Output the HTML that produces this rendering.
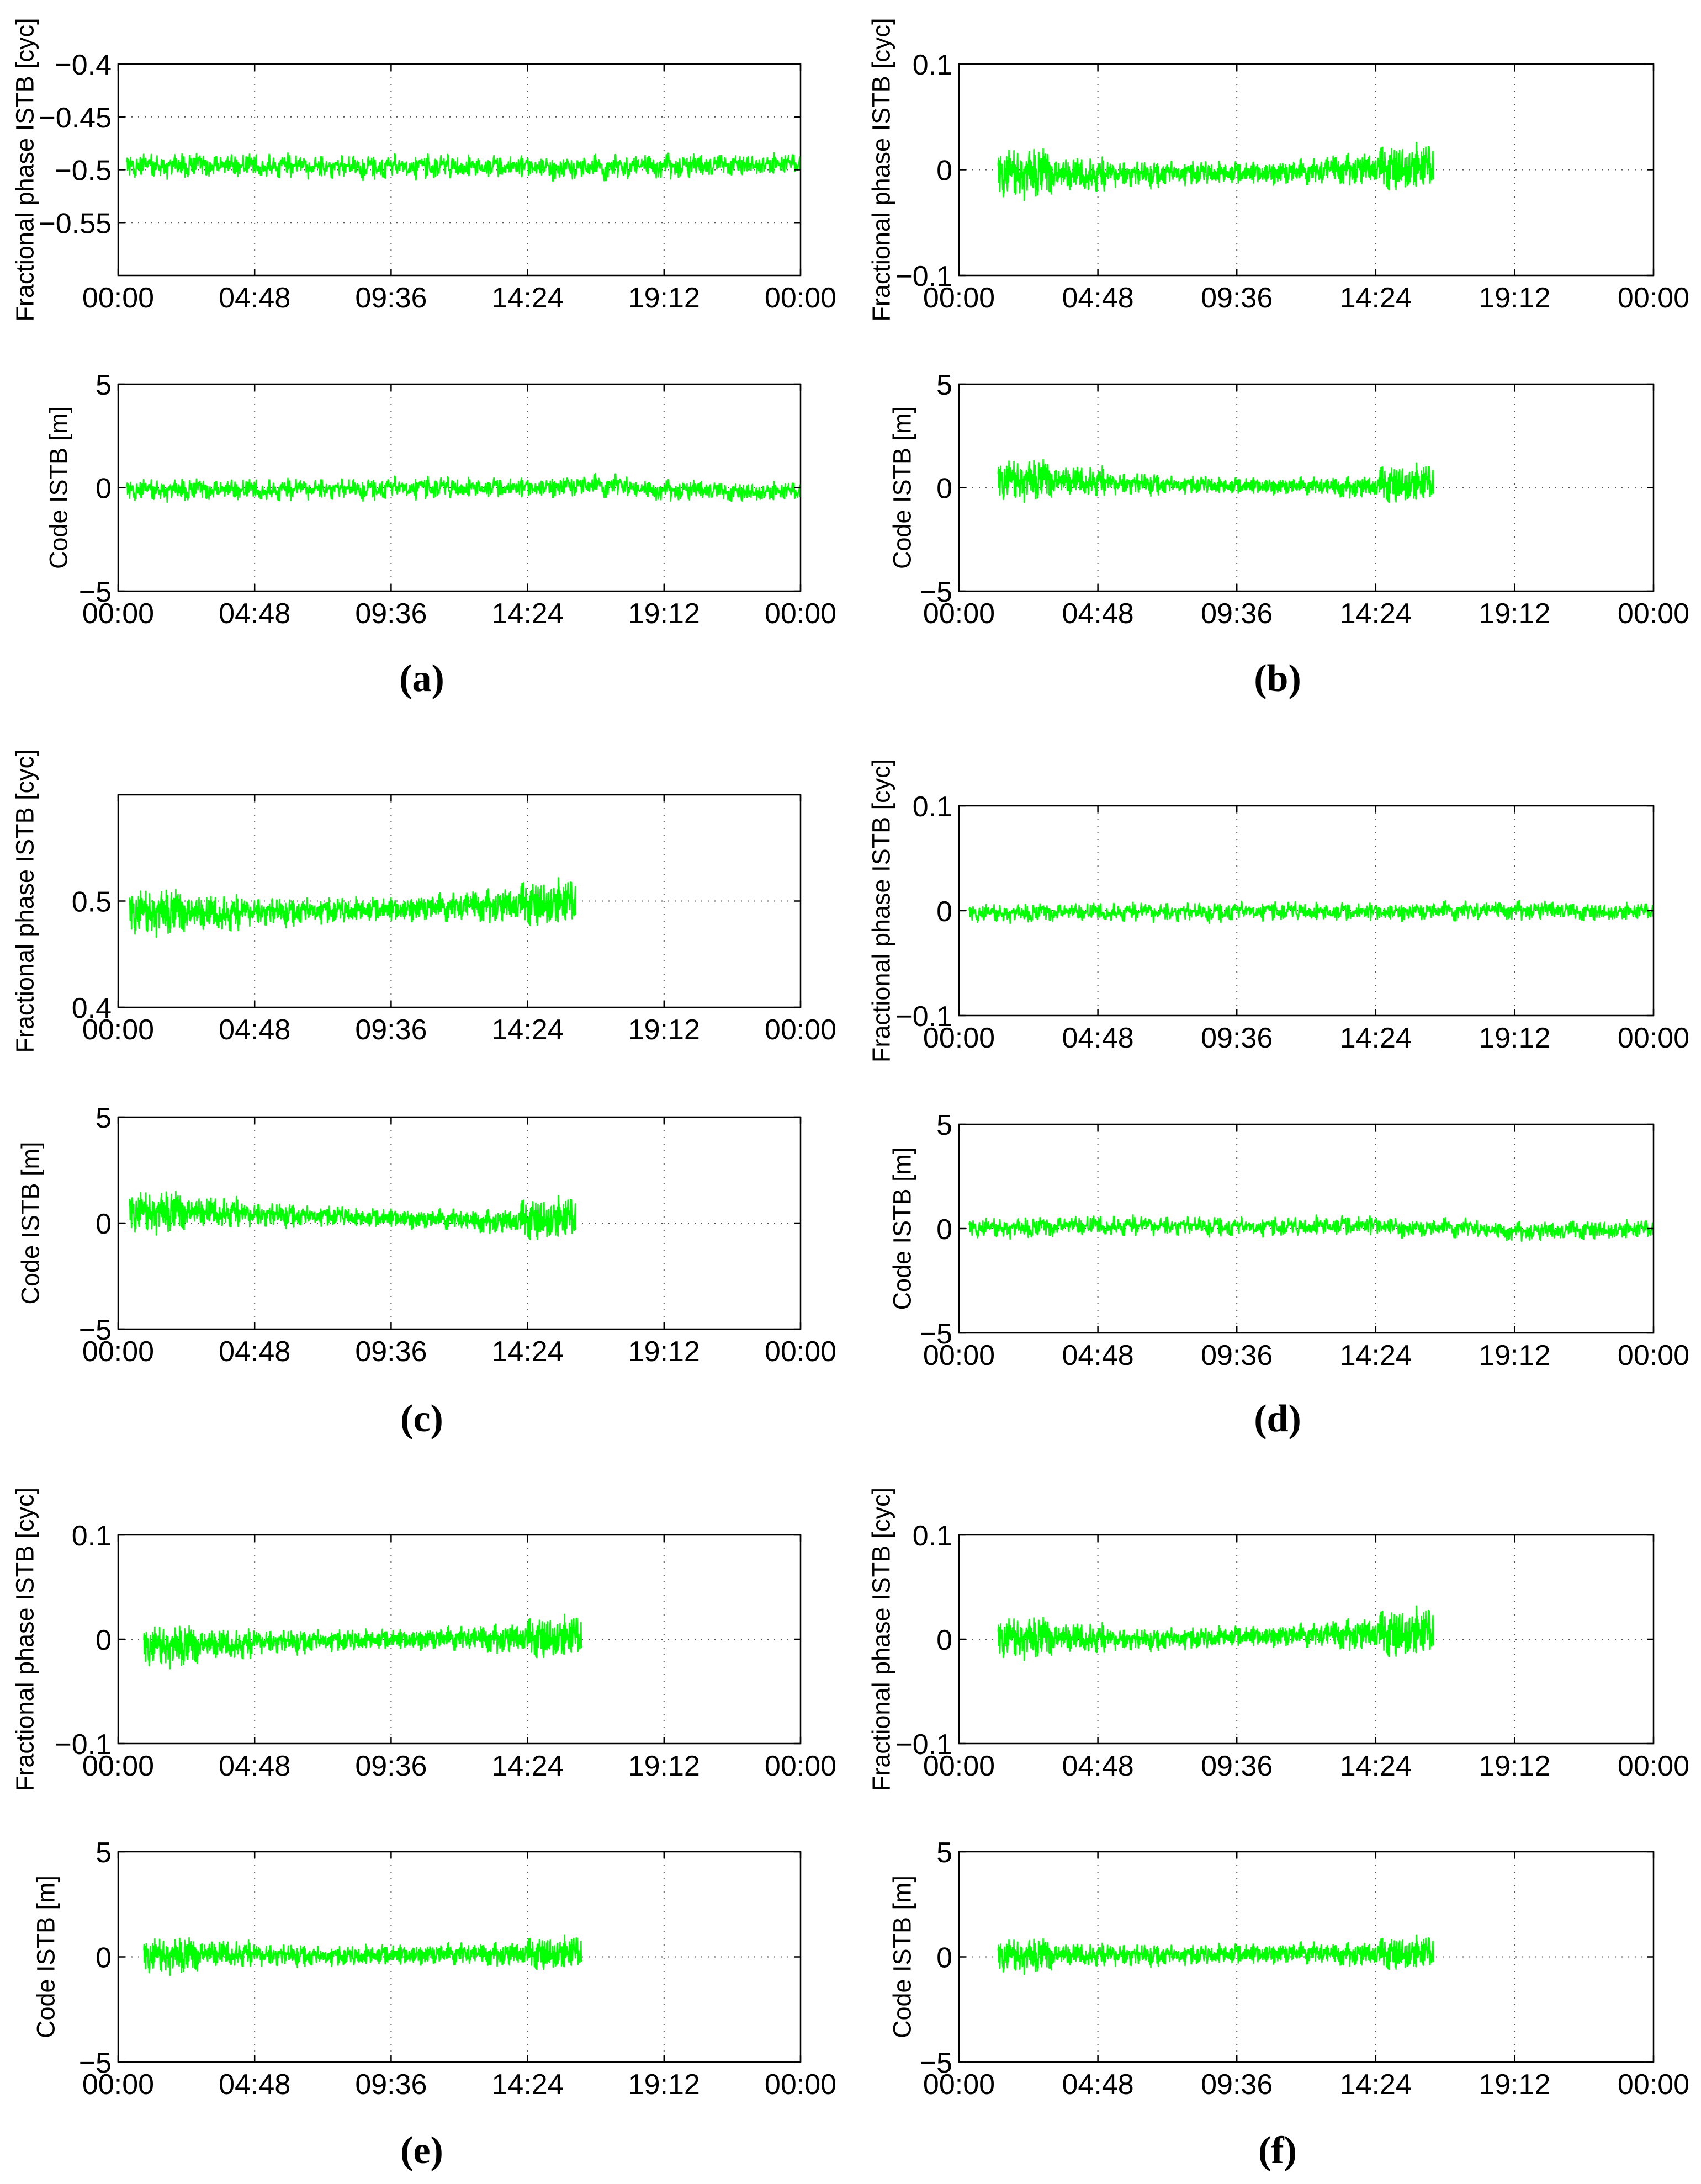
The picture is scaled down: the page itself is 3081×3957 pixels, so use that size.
<!DOCTYPE html>
<html><head><meta charset="utf-8"><style>
html,body{margin:0;padding:0;background:#fff}
svg{display:block}
</style></head><body>
<svg id="fig" width="3081" height="3957" viewBox="0 0 3081 3957" xmlns="http://www.w3.org/2000/svg" style="font-family:'Liberation Sans',sans-serif"></svg>
<script>
// ---- data (hours for time) ----
const timeTicks = [0, 4.8, 9.6, 14.4, 19.2, 24];
const timeTickLabels = ["00:00","04:48","09:36","14:24","19:12","00:00"];
const aPhaseSpan=[0.3,24]; const aPhaseMid=[-0.497,-0.497,-0.498,-0.498,-0.498,-0.499,-0.497,-0.496]; const aPhaseHalf=[0.013,0.013,0.012,0.013,0.012,0.013,0.013,0.012];
const aCodeSpan=[0.3,24]; const aCodeMid=[-0.15,-0.15,-0.1,-0.05,-0.05,0.05,-0.15,-0.25]; const aCodeHalf=[0.6,0.6,0.55,0.6,0.55,0.6,0.55,0.55];
const bPhaseSpan=[1.35,16.4]; const bPhaseMid=[-0.005,-0.006,-0.005,-0.004,-0.004,-0.003,0.0,0.0]; const bPhaseHalf=[0.026,0.018,0.013,0.012,0.012,0.013,0.016,0.026];
const bCodeSpan=[1.35,16.4]; const bCodeMid=[0.3,0.25,0.15,0.1,0.05,0.05,0.0,0.1]; const bCodeHalf=[1.1,0.8,0.55,0.45,0.45,0.45,0.55,1.1];
const cPhaseSpan=[0.4,16.1]; const cPhaseMid=[0.488,0.487,0.489,0.490,0.491,0.493,0.495,0.496]; const cPhaseHalf=[0.024,0.019,0.014,0.013,0.013,0.014,0.017,0.026];
const cCodeSpan=[0.4,16.1]; const cCodeMid=[0.45,0.45,0.35,0.3,0.2,0.15,0.05,0.1]; const cCodeHalf=[1.1,0.8,0.6,0.5,0.5,0.5,0.6,1.2];
const dPhaseSpan=[0.35,24]; const dPhaseMid=[-0.003,-0.002,-0.002,-0.001,-0.002,-0.001,0.0,-0.002]; const dPhaseHalf=[0.01,0.01,0.01,0.01,0.01,0.01,0.01,0.01];
const dCodeSpan=[0.35,24]; const dCodeMid=[0.0,0.1,0.1,0.05,0.1,0.0,-0.15,-0.1]; const dCodeHalf=[0.55,0.55,0.5,0.5,0.55,0.5,0.5,0.55];
const ePhaseSpan=[0.9,16.3]; const ePhaseMid=[-0.008,-0.006,-0.003,-0.002,-0.001,0.0,0.0,0.0]; const ePhaseHalf=[0.022,0.016,0.012,0.011,0.011,0.012,0.015,0.024];
const eCodeSpan=[0.9,16.3]; const eCodeMid=[0.0,0.1,0.05,0.0,0.05,0.1,0.1,0.1]; const eCodeHalf=[0.95,0.7,0.55,0.5,0.55,0.55,0.6,0.95];
const fPhaseSpan=[1.35,16.4]; const fPhaseMid=[0.0,0.0,-0.001,0.0,0.002,0.003,0.004,0.004]; const fPhaseHalf=[0.022,0.016,0.011,0.011,0.011,0.012,0.016,0.028];
const fCodeSpan=[1.35,16.4]; const fCodeMid=[0.0,0.05,0.05,0.05,0.1,0.15,0.1,0.1]; const fCodeHalf=[0.9,0.6,0.55,0.5,0.55,0.55,0.6,0.95];
const jitter=[0.3,-0.8,0.9,-0.2,0.6,-1.0,0.1,0.7,-0.5,0.95,-0.35,0.2,-0.9,0.5,-0.1,0.8,-0.65,0.4,-0.3,1.0,-0.75,0.05,0.6,-0.45,0.85,-0.15,-0.95,0.35,0.7,-0.6,0.15,-0.25,0.9,-0.85,0.45,-0.05,0.65,-0.7,0.25,-0.4,1.0];
const phaseTicks01=[-0.1,0,0.1]; const phaseTickLabels01=["−0.1","0","0.1"];
const codeTicks=[-5,0,5]; const codeTickLabels=["−5","0","5"];
const aPhaseTicks=[-0.55,-0.5,-0.45,-0.4]; const aPhaseTickLabels=["−0.55","−0.5","−0.45","−0.4"];
const cPhaseTicks=[0.4,0.5]; const cPhaseTickLabels=["0.4","0.5"];

// ---- layout ----
const NS="http://www.w3.org/2000/svg";
const svg=document.getElementById('fig');
function mk(tag,attrs,parent){const e=document.createElementNS(NS,tag);for(const k in attrs)e.setAttribute(k,attrs[k]);(parent||svg).appendChild(e);return e;}
const LX=[214,1450], RX=[1737,2995];
const panels=[
 {id:'a-phase',x:LX,y:[116,499],yr:[-0.6,-0.4],ticks:aPhaseTicks,tl:aPhaseTickLabels,grid:[-0.55,-0.5,-0.45],span:aPhaseSpan,mid:aPhaseMid,half:aPhaseHalf,lab:'Fractional phase ISTB [cyc]',lx:45},
 {id:'a-code',x:LX,y:[696,1071],yr:[-5,5],ticks:codeTicks,tl:codeTickLabels,grid:[0],span:aCodeSpan,mid:aCodeMid,half:aCodeHalf,lab:'Code ISTB [m]',lx:106},
 {id:'b-phase',x:RX,y:[116,499],yr:[-0.1,0.1],ticks:phaseTicks01,tl:phaseTickLabels01,grid:[0],span:bPhaseSpan,mid:bPhaseMid,half:bPhaseHalf,lab:'Fractional phase ISTB [cyc]',lx:1596},
 {id:'b-code',x:RX,y:[696,1071],yr:[-5,5],ticks:codeTicks,tl:codeTickLabels,grid:[0],span:bCodeSpan,mid:bCodeMid,half:bCodeHalf,lab:'Code ISTB [m]',lx:1634},
 {id:'c-phase',x:LX,y:[1440,1825],yr:[0.4,0.6],ticks:cPhaseTicks,tl:cPhaseTickLabels,grid:[0.5],span:cPhaseSpan,mid:cPhaseMid,half:cPhaseHalf,lab:'Fractional phase ISTB [cyc]',lx:45},
 {id:'c-code',x:LX,y:[2024,2408],yr:[-5,5],ticks:codeTicks,tl:codeTickLabels,grid:[0],span:cCodeSpan,mid:cCodeMid,half:cCodeHalf,lab:'Code ISTB [m]',lx:55},
 {id:'d-phase',x:RX,y:[1460,1840],yr:[-0.1,0.1],ticks:phaseTicks01,tl:phaseTickLabels01,grid:[0],span:dPhaseSpan,mid:dPhaseMid,half:dPhaseHalf,lab:'Fractional phase ISTB [cyc]',lx:1596},
 {id:'d-code',x:RX,y:[2037,2415],yr:[-5,5],ticks:codeTicks,tl:codeTickLabels,grid:[0],span:dCodeSpan,mid:dCodeMid,half:dCodeHalf,lab:'Code ISTB [m]',lx:1634},
 {id:'e-phase',x:LX,y:[2781,3159],yr:[-0.1,0.1],ticks:phaseTicks01,tl:phaseTickLabels01,grid:[0],span:ePhaseSpan,mid:ePhaseMid,half:ePhaseHalf,lab:'Fractional phase ISTB [cyc]',lx:45},
 {id:'e-code',x:LX,y:[3355,3736],yr:[-5,5],ticks:codeTicks,tl:codeTickLabels,grid:[0],span:eCodeSpan,mid:eCodeMid,half:eCodeHalf,lab:'Code ISTB [m]',lx:83},
 {id:'f-phase',x:RX,y:[2781,3159],yr:[-0.1,0.1],ticks:phaseTicks01,tl:phaseTickLabels01,grid:[0],span:fPhaseSpan,mid:fPhaseMid,half:fPhaseHalf,lab:'Fractional phase ISTB [cyc]',lx:1596},
 {id:'f-code',x:RX,y:[3355,3736],yr:[-5,5],ticks:codeTicks,tl:codeTickLabels,grid:[0],span:fCodeSpan,mid:fCodeMid,half:fCodeHalf,lab:'Code ISTB [m]',lx:1634}
];
const JL=jitter.length;
panels.forEach(p=>{
  const g=mk('g',{});
  
  
  const sx=t=>p.x[0]+(t/24)*(p.x[1]-p.x[0]);
  const sy=v=>p.y[1]-(v-p.yr[0])/(p.yr[1]-p.yr[0])*(p.y[1]-p.y[0]);
  timeTicks.slice(1,-1).forEach(t=>{const l=mk('line',{x1:sx(t),x2:sx(t),y1:p.y[0],y2:p.y[1],stroke:'#555','stroke-width':2,'stroke-dasharray':'2 10'},g);});
  p.grid.forEach(v=>{const l=mk('line',{x1:p.x[0],x2:p.x[1],y1:sy(v),y2:sy(v),stroke:'#555','stroke-width':2,'stroke-dasharray':'2 10'},g);});
  const n=1400, t0=p.span[0], t1=p.span[1], nb=p.mid.length;
  let pts=[];
  for(let i=0;i<=n;i++){
    const t=t0+(t1-t0)*i/n;
    const b=Math.min(nb-1,Math.floor((t-t0)/(t1-t0)*nb));
    const j=0.55*jitter[(i*7+Math.floor(i/41)*3)%JL]+0.3*jitter[(i*13+Math.floor(i/97)*5)%JL]+0.25*jitter[(Math.floor(i/5)*11)%JL];
    const v=p.mid[b]+p.half[b]*j;
    pts.push(sx(t).toFixed(1)+','+sy(v).toFixed(1));
  }
  const pl=mk('polyline',{points:pts.join(' '),fill:'none',stroke:'#00ff00','stroke-width':2.5,'stroke-linejoin':'round'},g);
  
  
  const r=mk('rect',{x:p.x[0],y:p.y[0],width:p.x[1]-p.x[0],height:p.y[1]-p.y[0],fill:'none',stroke:'#000','stroke-width':2.5},g);
  
  
  timeTicks.forEach((t,i)=>{
    mk('line',{x1:sx(t),x2:sx(t),y1:p.y[1],y2:p.y[1]-12,stroke:'#000','stroke-width':2.5},g);
    mk('line',{x1:sx(t),x2:sx(t),y1:p.y[0],y2:p.y[0]+12,stroke:'#000','stroke-width':2.5},g);
    const tx=mk('text',{x:sx(t),y:p.y[1]+58,'font-size':52,'text-anchor':'middle'},g);
    tx.textContent=timeTickLabels[i];
    
    
  });
  p.ticks.forEach((v,i)=>{
    mk('line',{x1:p.x[0],x2:p.x[0]+12,y1:sy(v),y2:sy(v),stroke:'#000','stroke-width':2.5},g);
    mk('line',{x1:p.x[1],x2:p.x[1]-12,y1:sy(v),y2:sy(v),stroke:'#000','stroke-width':2.5},g);
    const tx=mk('text',{x:p.x[0]-12,y:sy(v)+19,'font-size':52,'text-anchor':'end'},g);
    tx.textContent=p.tl[i];
    
    
  });
  const cy=(p.y[0]+p.y[1])/2;
  const yl=mk('text',{x:p.lx,y:cy,'font-size':45,'text-anchor':'middle',transform:'rotate(-90 '+p.lx+' '+cy+')','dominant-baseline':'central'},g);
  yl.textContent=p.lab;
  
  
});
const subLabels=[['(a)',764,1228],['(b)',2314,1228],['(c)',764,2569],['(d)',2314,2569],['(e)',764,3895],['(f)',2314,3895]];
subLabels.forEach(s=>{
  const t=mk('text',{x:s[1],y:s[2]+24,'font-size':70,'font-weight':'bold','text-anchor':'middle',style:"font-family:'Liberation Serif',serif"});
  t.textContent=s[0];
  
  
});
</script>
</body></html>
